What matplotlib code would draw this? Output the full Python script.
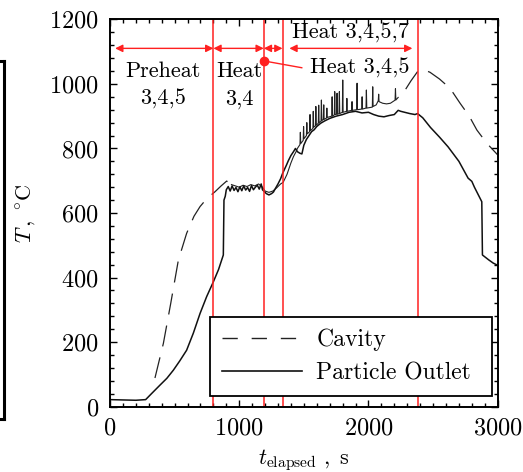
import numpy as np
import matplotlib
matplotlib.use('Agg')
import matplotlib.pyplot as plt
from matplotlib.lines import Line2D
from matplotlib.ticker import MultipleLocator

plt.rcParams['font.family'] = ['cmr10', 'DejaVu Serif']
plt.rcParams['mathtext.fontset'] = 'cm'
plt.rcParams['axes.unicode_minus'] = False
plt.rcParams['axes.formatter.use_mathtext'] = True

# particle outlet temperature (solid)
outlet_t = [0, 100, 200, 276, 320, 387, 440, 490, 540, 593, 645, 697, 748, 800, 840, 877,
            882, 892, 900, 915, 930, 945, 960, 975, 990, 1005, 1020, 1035, 1050, 1065,
            1080, 1095, 1110, 1125, 1140, 1155, 1170, 1180, 1190, 1210, 1230, 1250, 1265,
            1280, 1300, 1320, 1335, 1350, 1365, 1380, 1400, 1420, 1435, 1450, 1470, 1485,
            1500, 1520, 1540, 1560, 1580, 1600, 1630, 1660, 1700, 1750, 1800, 1850, 1900,
            1950, 2000, 2040, 2080, 2120, 2160, 2200, 2230, 2250, 2280, 2320, 2360, 2380,
            2420, 2480, 2550, 2616, 2700, 2771, 2800, 2820, 2877, 2882, 2930, 2965, 3000]
outlet_T = [22, 21, 20, 22, 40, 67, 88, 113, 142, 175, 228, 289, 341, 387, 425, 470,
            640, 652, 672, 682, 668, 684, 670, 679, 666, 681, 669, 684, 671, 679,
            667, 685, 672, 680, 686, 674, 690, 672, 668, 660, 656, 660, 665,
            676, 690, 706, 722, 735, 748, 762, 778, 790, 800, 790, 785, 783,
            810, 828, 840, 852, 858, 868, 878, 885, 893, 900, 905, 912, 915,
            910, 912, 905, 900, 898, 902, 905, 918, 915, 912, 908, 905, 908,
            895, 865, 835, 805, 760, 708, 698, 680, 635, 470, 455, 445, 438]

# cavity temperature (dashed)
cavity_t = [348, 413, 470, 529, 593, 650, 697, 750, 813, 860, 903, 925, 940,
            970, 1000, 1030, 1060, 1090, 1120, 1150, 1180, 1200, 1230, 1260, 1290, 1320,
            1340, 1370, 1400, 1420, 1440, 1450,
            1470, 1473, 1476, 1495, 1498, 1501, 1520, 1523, 1526, 1545, 1548, 1551,
            1570, 1573, 1576, 1590, 1593, 1596, 1612, 1615, 1618, 1633, 1636, 1639,
            1651, 1654, 1657, 1675, 1678, 1681, 1716, 1719, 1722, 1736, 1739, 1742,
            1754, 1757, 1760, 1772, 1775, 1778, 1798, 1801, 1804, 1830, 1833, 1836,
            1870, 1873, 1876, 1909, 1912, 1915, 1948, 1951, 1954, 1981, 1984, 1987,
            2030, 2033, 2036, 2060, 2076, 2079, 2082, 2110, 2140, 2170, 2200,
            2206, 2209, 2212, 2230,
            2284, 2330, 2380, 2420, 2476, 2550, 2632, 2709, 2780, 2839, 2916, 3000]
cavity_T = [89, 196, 320, 454, 537, 590, 620, 645, 666, 684, 699, 692, 688,
            684, 680, 686, 682, 688, 684, 690, 680, 668, 664, 668, 678, 690,
            695, 720, 755, 775, 790, 800,
            812, 850, 815, 825, 868, 830, 840, 880, 845, 852, 905, 855,
            862, 915, 866, 870, 930, 872, 878, 934, 880, 884, 950, 886,
            890, 935, 890, 894, 925, 896, 900, 960, 900, 904, 976, 905,
            906, 971, 906, 908, 976, 908, 912, 1012, 912, 915, 955, 915,
            918, 945, 918, 920, 1002, 920, 922, 960, 922, 925, 981, 925,
            928, 991, 930, 935, 948, 968, 945, 940, 938, 940, 948,
            950, 985, 950, 958,
            981, 1010, 1038, 1045, 1036, 1015, 986, 940, 900, 857, 816, 780]

# operating phases
phase_edges = [800, 1190, 1335, 2380]
arrow_spans = [(40, 800), (800, 1190), (1190, 1335), (1388, 2340)]
arrow_T = 1110

fig = plt.figure(figsize=(5.23, 4.72), dpi=100)
ax = fig.add_axes([0.2103, 0.1383, 0.7413, 0.8208])

ct = np.array(cavity_t)
cT = np.array(cavity_T)
rise = ct <= 940
mid = (ct >= 940) & (ct <= 2230)
fall = ct >= 2230
ax.plot(ct[rise], cT[rise], color='#222222', lw=0.9, linestyle=(0, (17, 9)))
ax.plot(ct[mid], cT[mid], color='#222222', lw=0.8)
ax.plot(ct[fall], cT[fall], color='#222222', lw=0.9, linestyle=(17, (17, 9)))
ax.plot(outlet_t, outlet_T, color='#111111', lw=1.1)

for x in phase_edges:
    ax.axvline(x, color='#ff2020', lw=1.1)

for a, b in arrow_spans:
    ax.annotate('', xy=(b, arrow_T), xytext=(a, arrow_T),
                arrowprops=dict(arrowstyle='<|-|>', color='#ff2020', lw=1.0,
                                mutation_scale=11, shrinkA=0, shrinkB=0))

ax.plot([1192, 1484], [1071, 1050], color='#ff2020', lw=1.0)
ax.plot([1192], [1071], 'o', color='#ff2020', ms=6)

fs = 16
ax.text(410, 1040, 'Preheat', ha='center', va='center', fontsize=fs)
ax.text(410, 953, '3,4,5', ha='center', va='center', fontsize=fs)
ax.text(1000, 1040, 'Heat', ha='center', va='center', fontsize=fs)
ax.text(1000, 953, '3,4', ha='center', va='center', fontsize=fs)
ax.text(1858, 1157, 'Heat 3,4,5,7', ha='center', va='center', fontsize=fs)
ax.text(1930, 1048, 'Heat 3,4,5', ha='center', va='center', fontsize=fs)

ax.set_xlim(0, 3000)
ax.set_ylim(0, 1200)
ax.xaxis.set_major_locator(MultipleLocator(1000))
ax.xaxis.set_minor_locator(MultipleLocator(100))
ax.yaxis.set_major_locator(MultipleLocator(200))
ax.yaxis.set_minor_locator(MultipleLocator(40))
ax.tick_params(which='both', direction='in', top=True, right=True, labelsize=17.5, width=1.0)
ax.tick_params(which='major', length=5, pad=8)
ax.tick_params(which='minor', length=3)
for s in ax.spines.values():
    s.set_linewidth(1.4)

ax.set_xlabel(r'$t_{\mathrm{elapsed}}\ ,\ \mathrm{s}$', fontsize=fs, labelpad=5)
ax.set_ylabel(r'$T\,,\ ^{\circ}\mathrm{C}$', fontsize=fs, labelpad=8)

handles = [Line2D([], [], color='#222222', lw=1.0, dashes=(11, 10)),
           Line2D([], [], color='#111111', lw=1.2)]
leg = ax.legend(handles, ['Cavity', 'Particle Outlet'], loc='lower left',
                bbox_to_anchor=(0.258, 0.0276, 0.728, 0.19), mode='expand',
                fontsize=17, handlelength=3.4, handletextpad=0.6, fancybox=False,
                framealpha=1, edgecolor='black', borderaxespad=0, borderpad=0.5,
                labelspacing=0.45)
leg.get_frame().set_linewidth(1.3)

# frame edge of a neighbouring panel, cut off at the left
x0 = 4 / 523
ytop, ybot = 1 - 61 / 472, 1 - 419 / 472
for xs, ys in [([x0, x0], [ytop, ybot]), ([0, x0], [ytop, ytop]), ([0, x0], [ybot, ybot])]:
    fig.add_artist(Line2D(xs, ys, color='black', lw=2.2, transform=fig.transFigure))

fig.savefig('out.png', dpi=100)
